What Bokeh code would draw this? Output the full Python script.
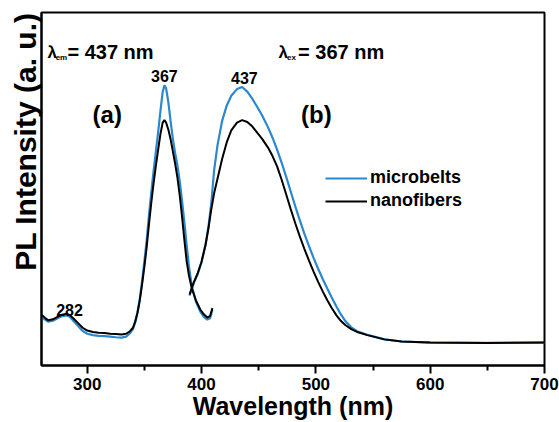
from bokeh.plotting import figure
from bokeh.models import Range1d, FixedTicker, Label, Legend, LegendItem, Title
from bokeh.embed import file_html
from bokeh.resources import INLINE

# ---------------- data ----------------
x_ticks = [300, 400, 500, 600, 700]
x_minor_ticks = [350, 450, 550, 650]
x_tick_labels = ["300", "400", "500", "600", "700"]

# excitation spectra (lambda_em = 437 nm)
ex_wl = [260, 263, 266, 270, 274, 278, 282, 285, 288, 292, 296, 300, 305, 310, 315,
         320, 325, 330, 334, 337, 340, 342, 344, 346, 348, 350, 352, 354, 356, 358,
         360, 362, 364, 366, 367.5, 369, 371, 373, 375, 377, 379, 381, 383, 385, 387,
         389, 391.5, 395, 399, 402, 405, 407.5, 409.5]
ex_nanofibers = [0.144, 0.135, 0.128, 0.131, 0.138, 0.144, 0.147, 0.142, 0.133, 0.120,
                 0.107, 0.099, 0.095, 0.093, 0.092, 0.090, 0.089, 0.088, 0.090, 0.096,
                 0.107, 0.125, 0.150, 0.185, 0.230, 0.280, 0.335, 0.400, 0.460, 0.515,
                 0.565, 0.610, 0.655, 0.688, 0.695, 0.688, 0.668, 0.640, 0.605, 0.570,
                 0.530, 0.480, 0.420, 0.355, 0.295, 0.255, 0.218, 0.185, 0.158, 0.145,
                 0.136, 0.140, 0.163]
ex_microbelts = [0.138, 0.130, 0.124, 0.127, 0.134, 0.140, 0.142, 0.137, 0.126, 0.112,
                 0.098, 0.090, 0.086, 0.084, 0.083, 0.082, 0.080, 0.079, 0.082, 0.090,
                 0.103, 0.122, 0.150, 0.190, 0.240, 0.295, 0.355, 0.425, 0.490, 0.550,
                 0.605, 0.660, 0.720, 0.775, 0.794, 0.785, 0.745, 0.690, 0.640, 0.600,
                 0.565, 0.520, 0.465, 0.405, 0.340, 0.280, 0.225, 0.182, 0.152, 0.138,
                 0.130, 0.134, 0.158]

# emission spectra (lambda_ex = 367 nm)
em_wl = [389.5, 393, 396.5, 400, 403.5, 406, 408.5, 411, 414, 418, 422, 426, 431, 435.5,
         440, 444.5, 449, 453, 458, 462, 466, 470, 474, 478, 482, 486, 490, 494, 498,
         502, 506, 510, 514, 518, 522, 526, 531, 536, 545, 560, 575, 600, 650, 700]
em_nanofibers = [0.201, 0.234, 0.260, 0.294, 0.342, 0.388, 0.442, 0.488, 0.530, 0.585,
                 0.632, 0.666, 0.688, 0.695, 0.690, 0.677, 0.658, 0.642, 0.618, 0.594,
                 0.565, 0.527, 0.485, 0.443, 0.403, 0.365, 0.330, 0.297, 0.266, 0.237,
                 0.210, 0.185, 0.162, 0.142, 0.126, 0.114, 0.103, 0.095, 0.086, 0.074,
                 0.068, 0.065, 0.064, 0.065]
em_microbelts = [0.198, 0.232, 0.258, 0.293, 0.342, 0.392, 0.460, 0.553, 0.625, 0.693,
                 0.736, 0.764, 0.783, 0.789, 0.776, 0.755, 0.731, 0.708, 0.676, 0.646,
                 0.612, 0.575, 0.535, 0.493, 0.451, 0.411, 0.373, 0.338, 0.305, 0.274,
                 0.245, 0.218, 0.192, 0.167, 0.144, 0.125, 0.108, 0.097, 0.087, 0.074,
                 0.068, 0.065, 0.064, 0.065]

series_names = ["microbelts", "nanofibers"]
peak_labels = ["282", "367", "437"]
peak_label_x = [284.5, 367.5, 437.5]
peak_label_y = [0.158, 0.82, 0.815]

BLUE = "#2a88cf"
BLACK = "#000000"
FONT = "Liberation Sans"

# ---------------- figure ----------------
p = figure(width=559, height=422, output_backend="svg", toolbar_location=None,
           x_range=Range1d(260, 700), y_range=Range1d(0, 1),
           min_border_left=41, min_border_right=15, min_border_top=12,
           min_border_bottom=56, background_fill_color="white",
           border_fill_color="white")
p.xgrid.visible = False
p.ygrid.visible = False
p.outline_line_color = "black"
p.outline_line_width = 2
p.outline_line_alpha = 1.0

xa = p.xaxis[0]
xa.ticker = FixedTicker(ticks=x_ticks, minor_ticks=x_minor_ticks)
xa.major_label_overrides = {t: l for t, l in zip(x_ticks, x_tick_labels)}
xa.axis_line_width = 2
xa.major_tick_line_width = 2
xa.minor_tick_line_width = 2
xa.major_tick_in = 0
xa.major_tick_out = 8
xa.minor_tick_in = 0
xa.minor_tick_out = 5
xa.major_label_text_font = FONT
xa.major_label_text_font_style = "bold"
xa.major_label_text_font_size = "17px"
xa.major_label_text_color = "black"
xa.major_label_standoff = 4
xa.axis_label = "Wavelength (nm)"
xa.axis_label_text_font = FONT
xa.axis_label_text_font_style = "bold"
xa.axis_label_text_font_size = "25px"
xa.axis_label_text_color = "black"
xa.axis_label_standoff = -1

ya = p.yaxis[0]
ya.ticker = FixedTicker(ticks=[])
ya.axis_line_width = 2
ya.major_tick_in = 0
ya.major_tick_out = 0
ya.minor_tick_in = 0
ya.minor_tick_out = 0
ya.major_label_standoff = 0
ya.major_label_text_font_size = "0px"

# y-axis title, placed toward the top like in the reference
p.add_layout(Title(text="PL Intensity (a. u.)", align="right", offset=0,
                   standoff=0, text_font=FONT, text_font_style="bold",
                   text_font_size="30px", text_color="black"), "left")

# ---------------- curves ----------------
r_ex_mb = p.line(ex_wl, ex_microbelts, line_color=BLUE, line_width=2.2)
r_em_mb = p.line(em_wl, em_microbelts, line_color=BLUE, line_width=2.2)
r_ex_nf = p.line(ex_wl, ex_nanofibers, line_color=BLACK, line_width=2)
r_em_nf = p.line(em_wl, em_nanofibers, line_color=BLACK, line_width=2)

legend = Legend(items=[LegendItem(label=series_names[0], renderers=[r_em_mb]),
                       LegendItem(label=series_names[1], renderers=[r_em_nf])],
                location=(284, 154), glyph_width=42, glyph_height=20,
                label_standoff=3, spacing=2, padding=0, margin=0,
                border_line_color=None, background_fill_alpha=0,
                label_text_font=FONT, label_text_font_style="bold",
                label_text_font_size="18px", label_text_color="black")
p.add_layout(legend)

# ---------------- annotations ----------------
def lab(x, y, text, size, align="left"):
    p.add_layout(Label(x=x, y=y, text=text, text_font=FONT, text_font_style="bold",
                       text_font_size=size, text_color="black", text_align=align,
                       text_baseline="alphabetic"))

lab(265.2, 0.887, "λ", "17px")
lab(272.4, 0.873, "em", "8px")
lab(282.7, 0.887, "= 437 nm", "20px")

lab(467.3, 0.887, "λ", "17px")
lab(474.8, 0.873, "ex", "8px")
lab(484.4, 0.887, "= 367 nm", "20px")

for t, x, y in zip(peak_labels, peak_label_x, peak_label_y):
    lab(x, y, t, "16px", align="center")

lab(317.5, 0.712, "(a)", "24px", align="center")
lab(500.5, 0.712, "(b)", "24px", align="center")

open("out.html", "w").write(file_html(p, INLINE))
